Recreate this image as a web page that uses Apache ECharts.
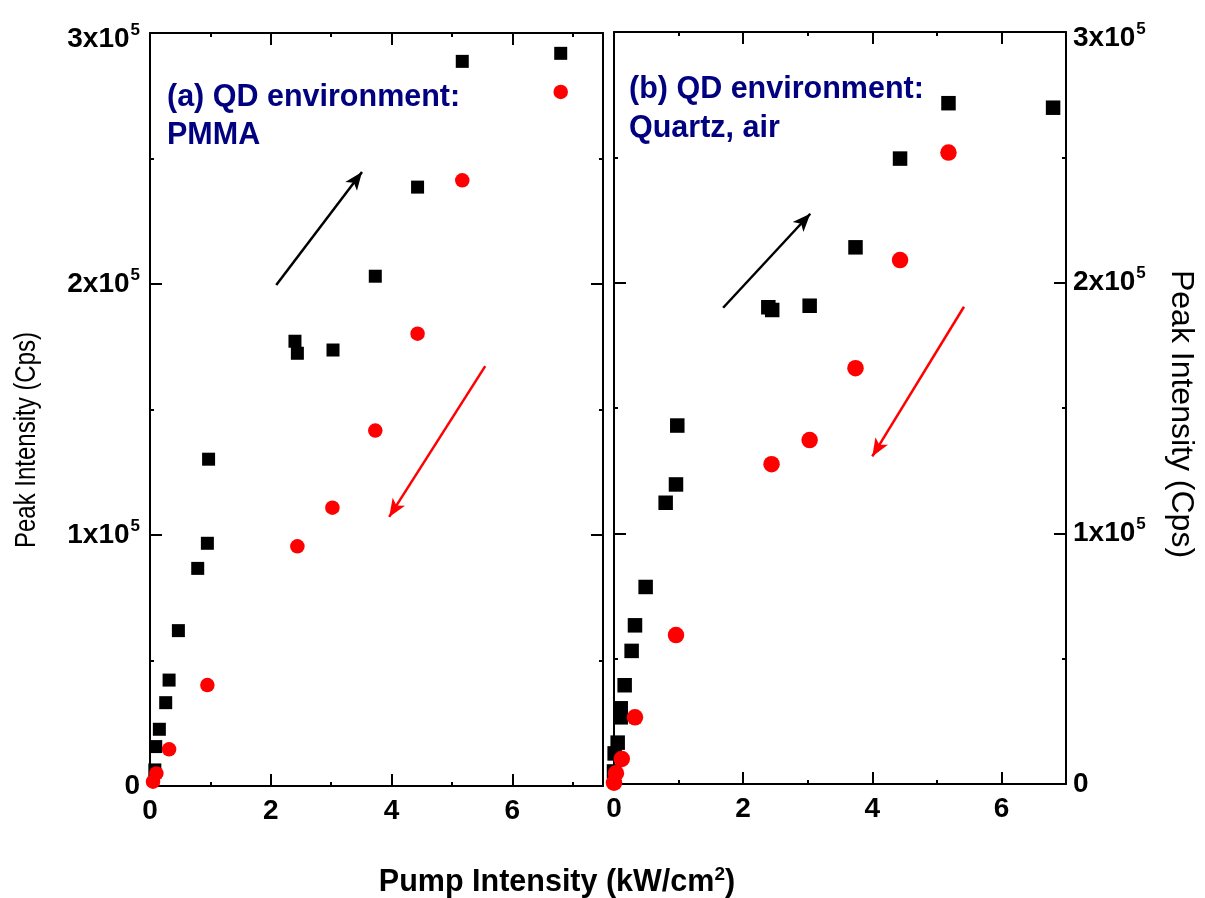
<!DOCTYPE html>
<html><head><meta charset="utf-8">
<script src="https://cdn.jsdelivr.net/npm/echarts@6/dist/echarts.min.js"></script>
<style>html,body{margin:0;padding:0;background:#fff}#c{width:1205px;height:898px}</style>
</head><body><div id="c"></div>
<script>
// ---- data ----
const xTicks = [0, 2, 4, 6];
const yTicks = [0, 100000, 200000, 300000];
const yTickLabels = ['0', '1x10', '2x10', '3x10'];
const yTickExp = '5';

// (a) PMMA : black squares
const sqAx = [0.08, 0.095, 0.155, 0.26, 0.316, 0.47, 0.79, 0.95, 0.97, 2.40, 2.44, 3.03, 3.73, 4.43, 5.17, 6.80];
const sqAy = [6400, 15700, 22600, 33200, 42200, 61900, 86700, 96700, 130200, 177200, 172400, 173700, 203100, 238600, 288700, 291900];
// (a) PMMA : red circles
const ciAx = [0.05, 0.105, 0.316, 0.95, 2.44, 3.02, 3.73, 4.43, 5.17, 6.80];
const ciAy = [1700, 5000, 14600, 40200, 95500, 110900, 141600, 180200, 241300, 276500];

// (b) Quartz, air : black squares
const sqBx = [0.00, 0.01, 0.057, 0.104, 0.104, 0.165, 0.273, 0.325, 0.49, 0.80, 0.96, 0.98, 2.39, 2.45, 3.03, 3.74, 4.43, 5.18, 6.80];
const sqBy = [5000, 12200, 16500, 26600, 30200, 39400, 53100, 63300, 78600, 112200, 119500, 143000, 190200, 189100, 190800, 214100, 249500, 271600, 269800];
// (b) Quartz, air : red circles
const ciBx = [0.00, 0.03, 0.12, 0.325, 0.96, 2.44, 3.03, 3.74, 4.43, 5.18];
const ciBy = [500, 4300, 10000, 26600, 59400, 127600, 137200, 165900, 209000, 251900];

// arrows (data coordinates: [x0, y0, x1, y1])
const arrowUpA = [2.09, 199600, 3.51, 244600];
const arrowDownA = [5.55, 167300, 3.96, 107200];
const arrowUpB = [1.69, 190000, 3.04, 227500];
const arrowDownB = [5.42, 190400, 4.00, 130700];

const texts = {
  a1: '(a) QD environment:', a2: 'PMMA',
  b1: '(b) QD environment:', b2: 'Quartz, air',
  yTitle: 'Peak Intensity (Cps)', xTitle: 'Pump Intensity (kW/cm', xTitleSup: '2', xTitleEnd: ')'
};

// ---- chart ----
const FF = '"Liberation Sans", Arial, Helvetica, sans-serif';
const chart = echarts.init(document.getElementById('c'), null, {renderer: 'canvas'});

function zip(xs, ys) { return xs.map((x, i) => [x, ys[i]]); }

function xMajor(gi, max, pos, showLabel) {
  return {
    type: 'value', gridIndex: gi, position: pos, min: 0, max: max, interval: 2,
    axisLine: {show: true, onZero: false, lineStyle: {color: '#000', width: 2}},
    axisTick: {show: true, inside: true, length: 12, lineStyle: {color: '#000', width: 2}},
    splitLine: {show: false},
    axisLabel: {
      show: showLabel, margin: 11, color: '#000', fontSize: 28, fontWeight: 'bold', fontFamily: FF,
      formatter: v => xTicks.indexOf(v) >= 0 ? String(v) : ''
    }
  };
}
function xMinor(gi, max, pos) {
  return {
    type: 'value', gridIndex: gi, position: pos, min: 0, max: max, interval: 1,
    axisLine: {show: false, onZero: false},
    axisTick: {show: true, inside: true, length: 4, lineStyle: {color: '#000', width: 2}},
    splitLine: {show: false}, axisLabel: {show: false}
  };
}
function yAx(gi, pos, showLabel, margin) {
  return {
    type: 'value', gridIndex: gi, position: pos, min: 0, max: 300000, interval: 100000,
    axisLine: {show: true, onZero: false, lineStyle: {color: '#000', width: 2}},
    axisTick: {show: true, inside: true, length: 12, lineStyle: {color: '#000', width: 2}},
    minorTick: {show: true, splitNumber: 2, length: 4, lineStyle: {color: '#000', width: 2}},
    splitLine: {show: false}, minorSplitLine: {show: false},
    axisLabel: {
      show: showLabel, margin: margin,
      formatter: v => {
        const i = yTicks.indexOf(v);
        if (i < 0) return '';
        if (i === 0) return '{m|0}';
        if (i === yTicks.length - 1) return '{mt|' + yTickLabels[i] + '}{st|' + yTickExp + '}';
        return '{m|' + yTickLabels[i] + '}{s|' + yTickExp + '}';
      },
      rich: {
        m: {fontSize: 28, fontWeight: 'bold', fontFamily: FF, color: '#000'},
        s: {fontSize: 17, fontWeight: 'bold', fontFamily: FF, color: '#000', verticalAlign: 'top', padding: [0, 0, 18, 1]},
        mt: {fontSize: 28, fontWeight: 'bold', fontFamily: FF, color: '#000', padding: [12, 0, 0, 0]},
        st: {fontSize: 17, fontWeight: 'bold', fontFamily: FF, color: '#000', verticalAlign: 'top', padding: [12, 0, 18, 1]}
      }
    }
  };
}
function arrowLine(a, color) {
  return [{coord: [a[0], a[1]], lineStyle: {color: color, width: 2.5, type: 'solid'}},
          {coord: [a[2], a[3]]}];
}
function mk(lines) {
  return {
    silent: true, animation: false, symbol: ['none', 'arrow'], symbolSize: [11, 18],
    label: {show: false}, emphasis: {disabled: true},
    lineStyle: {width: 2.5, type: 'solid', opacity: 1}, data: lines
  };
}
const txtStyle = (t, fs, color, align) => ({
  text: t, font: 'bold ' + fs + 'px ' + FF, fill: color,
  align: align, verticalAlign: 'middle', textAlign: align, textVerticalAlign: 'middle'
});

const option = {
  backgroundColor: '#fff',
  animation: false,
  grid: [
    {left: 150, top: 33, width: 453, height: 753},
    {left: 614, top: 32, width: 452, height: 752}
  ],
  xAxis: [
    xMajor(0, 7.5, 'bottom', true), xMajor(0, 7.5, 'top', false),
    xMinor(0, 7.5, 'bottom'), xMinor(0, 7.5, 'top'),
    xMajor(1, 7, 'bottom', true), xMajor(1, 7, 'top', false),
    xMinor(1, 7, 'bottom'), xMinor(1, 7, 'top')
  ],
  yAxis: [
    yAx(0, 'left', true, 10), yAx(0, 'right', false, 8),
    yAx(1, 'left', false, 8), yAx(1, 'right', true, 7)
  ],
  series: [
    {type: 'scatter', name: 'PMMA squares', xAxisIndex: 0, yAxisIndex: 0, clip: false,
     symbol: 'rect', symbolSize: 13, itemStyle: {color: '#000', opacity: 1}, data: zip(sqAx, sqAy),
     markLine: mk([arrowLine(arrowUpA, '#000'), arrowLine(arrowDownA, '#ff0000')])},
    {type: 'scatter', name: 'PMMA circles', xAxisIndex: 0, yAxisIndex: 0, clip: false,
     symbol: 'circle', symbolSize: 14.5, itemStyle: {color: '#ff0000', opacity: 1}, data: zip(ciAx, ciAy)},
    {type: 'scatter', name: 'Quartz squares', xAxisIndex: 4, yAxisIndex: 2, clip: false,
     symbol: 'rect', symbolSize: 14.5, itemStyle: {color: '#000', opacity: 1}, data: zip(sqBx, sqBy),
     markLine: mk([arrowLine(arrowUpB, '#000'), arrowLine(arrowDownB, '#ff0000')])},
    {type: 'scatter', name: 'Quartz circles', xAxisIndex: 4, yAxisIndex: 2, clip: false,
     symbol: 'circle', symbolSize: 16.5, itemStyle: {color: '#ff0000', opacity: 1}, data: zip(ciBx, ciBy)}
  ],
  graphic: [
    {type: 'text', x: 167, y: 98, style: txtStyle(texts.a1, 30.5, '#000080', 'left')},
    {type: 'text', x: 167, y: 136, style: txtStyle(texts.a2, 30.5, '#000080', 'left')},
    {type: 'text', x: 629, y: 90, style: txtStyle(texts.b1, 30.5, '#000080', 'left')},
    {type: 'text', x: 629, y: 129, style: txtStyle(texts.b2, 30.5, '#000080', 'left')},
    {type: 'text', x: 27, y: 440, rotation: Math.PI / 2, scaleX: 0.8,
     style: {text: texts.yTitle, font: '30px ' + FF, fill: '#000', align: 'center', verticalAlign: 'middle', textAlign: 'center', textVerticalAlign: 'middle'}},
    {type: 'text', x: 1181, y: 414, rotation: -Math.PI / 2,
     style: {text: texts.yTitle, font: '32px ' + FF, fill: '#000', align: 'center', verticalAlign: 'middle', textAlign: 'center', textVerticalAlign: 'middle'}},
    {type: 'text', x: 557, y: 883,
     style: {text: '{t|' + texts.xTitle + '}{s|' + texts.xTitleSup + '}{t|' + texts.xTitleEnd + '}',
       align: 'center', verticalAlign: 'middle', textAlign: 'center', textVerticalAlign: 'middle',
       rich: {t: {fontSize: 30.5, fontWeight: 'bold', fontFamily: FF, fill: '#000'},
              s: {fontSize: 19, fontWeight: 'bold', fontFamily: FF, fill: '#000', verticalAlign: 'top', padding: [0, 0, 16, 0]}}}}
  ]
};
chart.setOption(option);
</script>
</body></html>
